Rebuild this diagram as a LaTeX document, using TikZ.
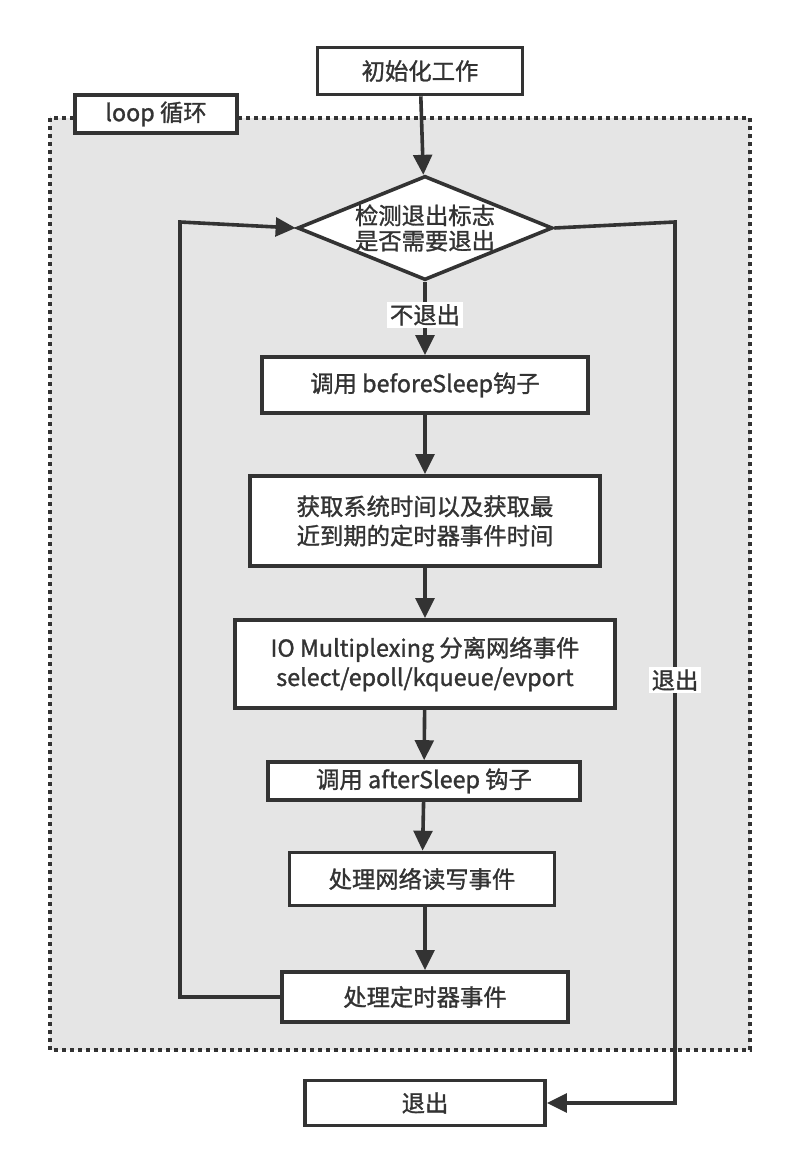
\documentclass[tikz,border=0pt]{standalone}
\usepackage{fontspec}
\setmainfont{Noto Sans CJK SC}[FakeBold=1.2]
\usetikzlibrary{arrows.meta,shapes.geometric}
\definecolor{ln}{HTML}{333333}
\begin{document}
\begin{tikzpicture}[x=0.75pt,y=-0.75pt,
  box/.style={draw=ln,line width=2.7pt,fill=white,text=ln,font=\fontsize{17.5}{22}\selectfont,align=center,inner sep=0pt},
  con/.style={draw=ln,line width=2.7pt,-{Triangle[length=15pt,width=14pt]}},
  lbl/.style={fill=white,text=ln,font=\fontsize{17.5}{22}\selectfont,inner sep=2pt}]
\useasboundingbox (0,0) rectangle (798,1170);
\fill[white] (0,0) rectangle (798,1170);
\draw[ln,line width=2.5pt,dash pattern=on 3pt off 3pt,fill=gray!20] (50,118) rectangle (750,1050);
\node[box,minimum width=162*0.75pt,minimum height=38*0.75pt] (loop) at (156,114) {loop 循环};
\node[box,minimum width=205*0.75pt,minimum height=47*0.75pt] (init) at (420,71) {初始化工作};
\node[box,diamond,aspect=2.45,minimum width=235*0.75pt,minimum height=95*0.75pt] (dec) at (425,228) {检测退出标志\\[-3pt]是否需要退出};
\node[box,minimum width=326*0.75pt,minimum height=56*0.75pt] (bs) at (425,385) {调用 beforeSleep钩子};
\node[box,minimum width=350*0.75pt,minimum height=90*0.75pt] (tm) at (425,521) {获取系统时间以及获取最\\近到期的定时器事件时间};
\node[box,minimum width=380*0.75pt,minimum height=88*0.75pt] (io) at (425,664) {IO Multiplexing 分离网络事件\\select/epoll/kqueue/evport};
\node[box,minimum width=312*0.75pt,minimum height=38*0.75pt] (as) at (424,781) {调用 afterSleep 钩子};
\node[box,minimum width=265*0.75pt,minimum height=53*0.75pt] (rw) at (422,879) {处理网络读写事件};
\node[box,minimum width=286*0.75pt,minimum height=50*0.75pt] (tt) at (425,997) {处理定时器事件};
\node[box,minimum width=240*0.75pt,minimum height=45*0.75pt] (ex) at (425,1103) {退出};
\draw[con] (init) -- (dec);
\draw[con] (dec) -- node[lbl,pos=0.45]{不退出} (bs);
\draw[con] (bs) -- (tm);
\draw[con] (tm) -- (io);
\draw[con] (io) -- (as);
\draw[con] (as) -- (rw);
\draw[con] (rw.south -| tt.north) -- (tt);
\coordinate (r1) at (675,222);
\coordinate (r2) at (675,1103);
\draw[con] (dec.east) -- (r1) -- node[lbl,pos=0.52]{退出} (r2) -- (ex.east);
\coordinate (l1) at (180,997);
\coordinate (l2) at (180,222);
\draw[con] (tt.west) -- (l1) -- (l2) -- (dec.west);
\end{tikzpicture}
\end{document}
